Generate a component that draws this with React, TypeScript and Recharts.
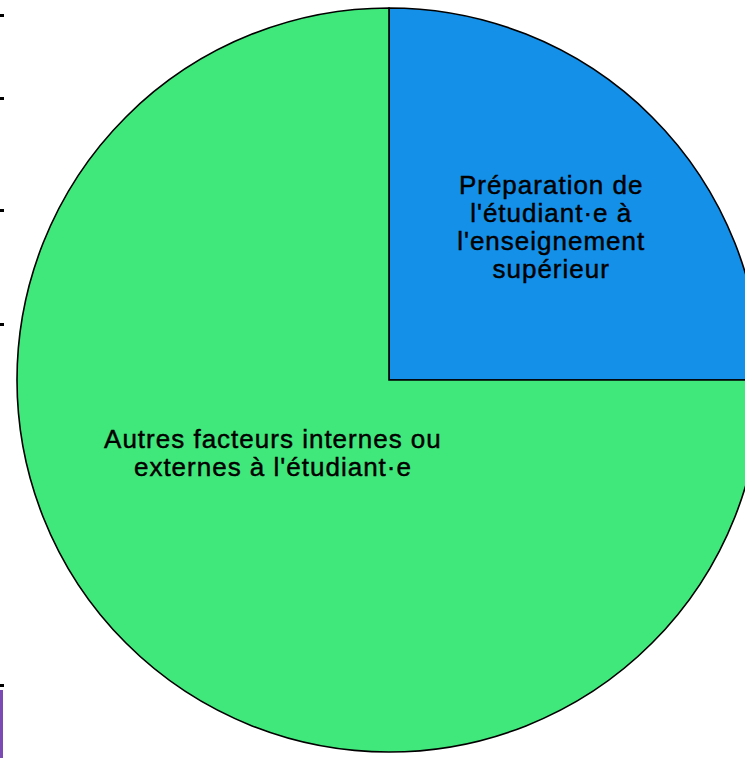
import React from "react";
import { PieChart, Pie, Cell } from "recharts";

const categories = [
  "Préparation de l'étudiant·e à l'enseignement supérieur",
  "Autres facteurs internes ou externes à l'étudiant·e",
];
const values = [25, 75];
const labelLines = [
  ["Préparation de", "l'étudiant·e à", "l'enseignement", "supérieur"],
  ["Autres facteurs internes ou", "externes à l'étudiant·e"],
];
const colors = ["#1490E8", "#40E87C"];
// label center offsets as a fraction of the outer radius
const labelOffsets = [
  { fx: 0.436, fy: -0.411 },
  { fx: -0.312, fy: 0.196 },
];

const data = categories.map((name, i) => ({ name, value: values[i] }));

const W = 745;
const H = 758;
const FONT = "'Liberation Sans', Arial, sans-serif";
const LINE_H = 28;

const renderLabel = (props: any) => {
  const { cx, cy, outerRadius, index } = props;
  const off = labelOffsets[index];
  const x = cx + off.fx * outerRadius;
  const y = cy + off.fy * outerRadius;
  const lines = labelLines[index];
  const startY = y - ((lines.length - 1) * LINE_H) / 2;
  return (
    <text
      key={`lbl-${index}`}
      x={x}
      y={startY}
      textAnchor="middle"
      dominantBaseline="central"
      fill="#000"
      stroke="#000"
      strokeWidth={0.45}
      style={{ fontFamily: FONT, fontSize: 26, letterSpacing: 1.0 }}
    >
      {lines.map((l, i) => (
        <tspan key={i} x={x} y={startY + i * LINE_H} dominantBaseline="central">
          {l}
        </tspan>
      ))}
    </text>
  );
};

const tickYs = [16, 99, 211, 325, 686];

export default function App() {
  return (
    <div style={{ position: "absolute", left: 0, top: 0, width: W, height: H, overflow: "hidden", background: "#fff" }}>
      <PieChart width={W} height={H} margin={{ top: 0, right: 0, bottom: 0, left: 0 }}>
        <Pie
          data={data}
          dataKey="value"
          nameKey="name"
          cx={389}
          cy={380}
          outerRadius={372}
          startAngle={90}
          endAngle={-270}
          stroke="#000"
          strokeWidth={1.6}
          label={renderLabel}
          labelLine={false}
          isAnimationActive={false}
        >
          {data.map((d, i) => (
            <Cell key={d.name} fill={colors[i]} />
          ))}
        </Pie>
      </PieChart>
      {tickYs.map((y) => (
        <div key={y} style={{ position: "absolute", left: 0, top: y - 2, width: 4, height: 3, background: "#000" }} />
      ))}
      <div style={{ position: "absolute", left: 0, top: 690, width: 3, height: 68, background: "#7B4BB3" }} />
    </div>
  );
}
